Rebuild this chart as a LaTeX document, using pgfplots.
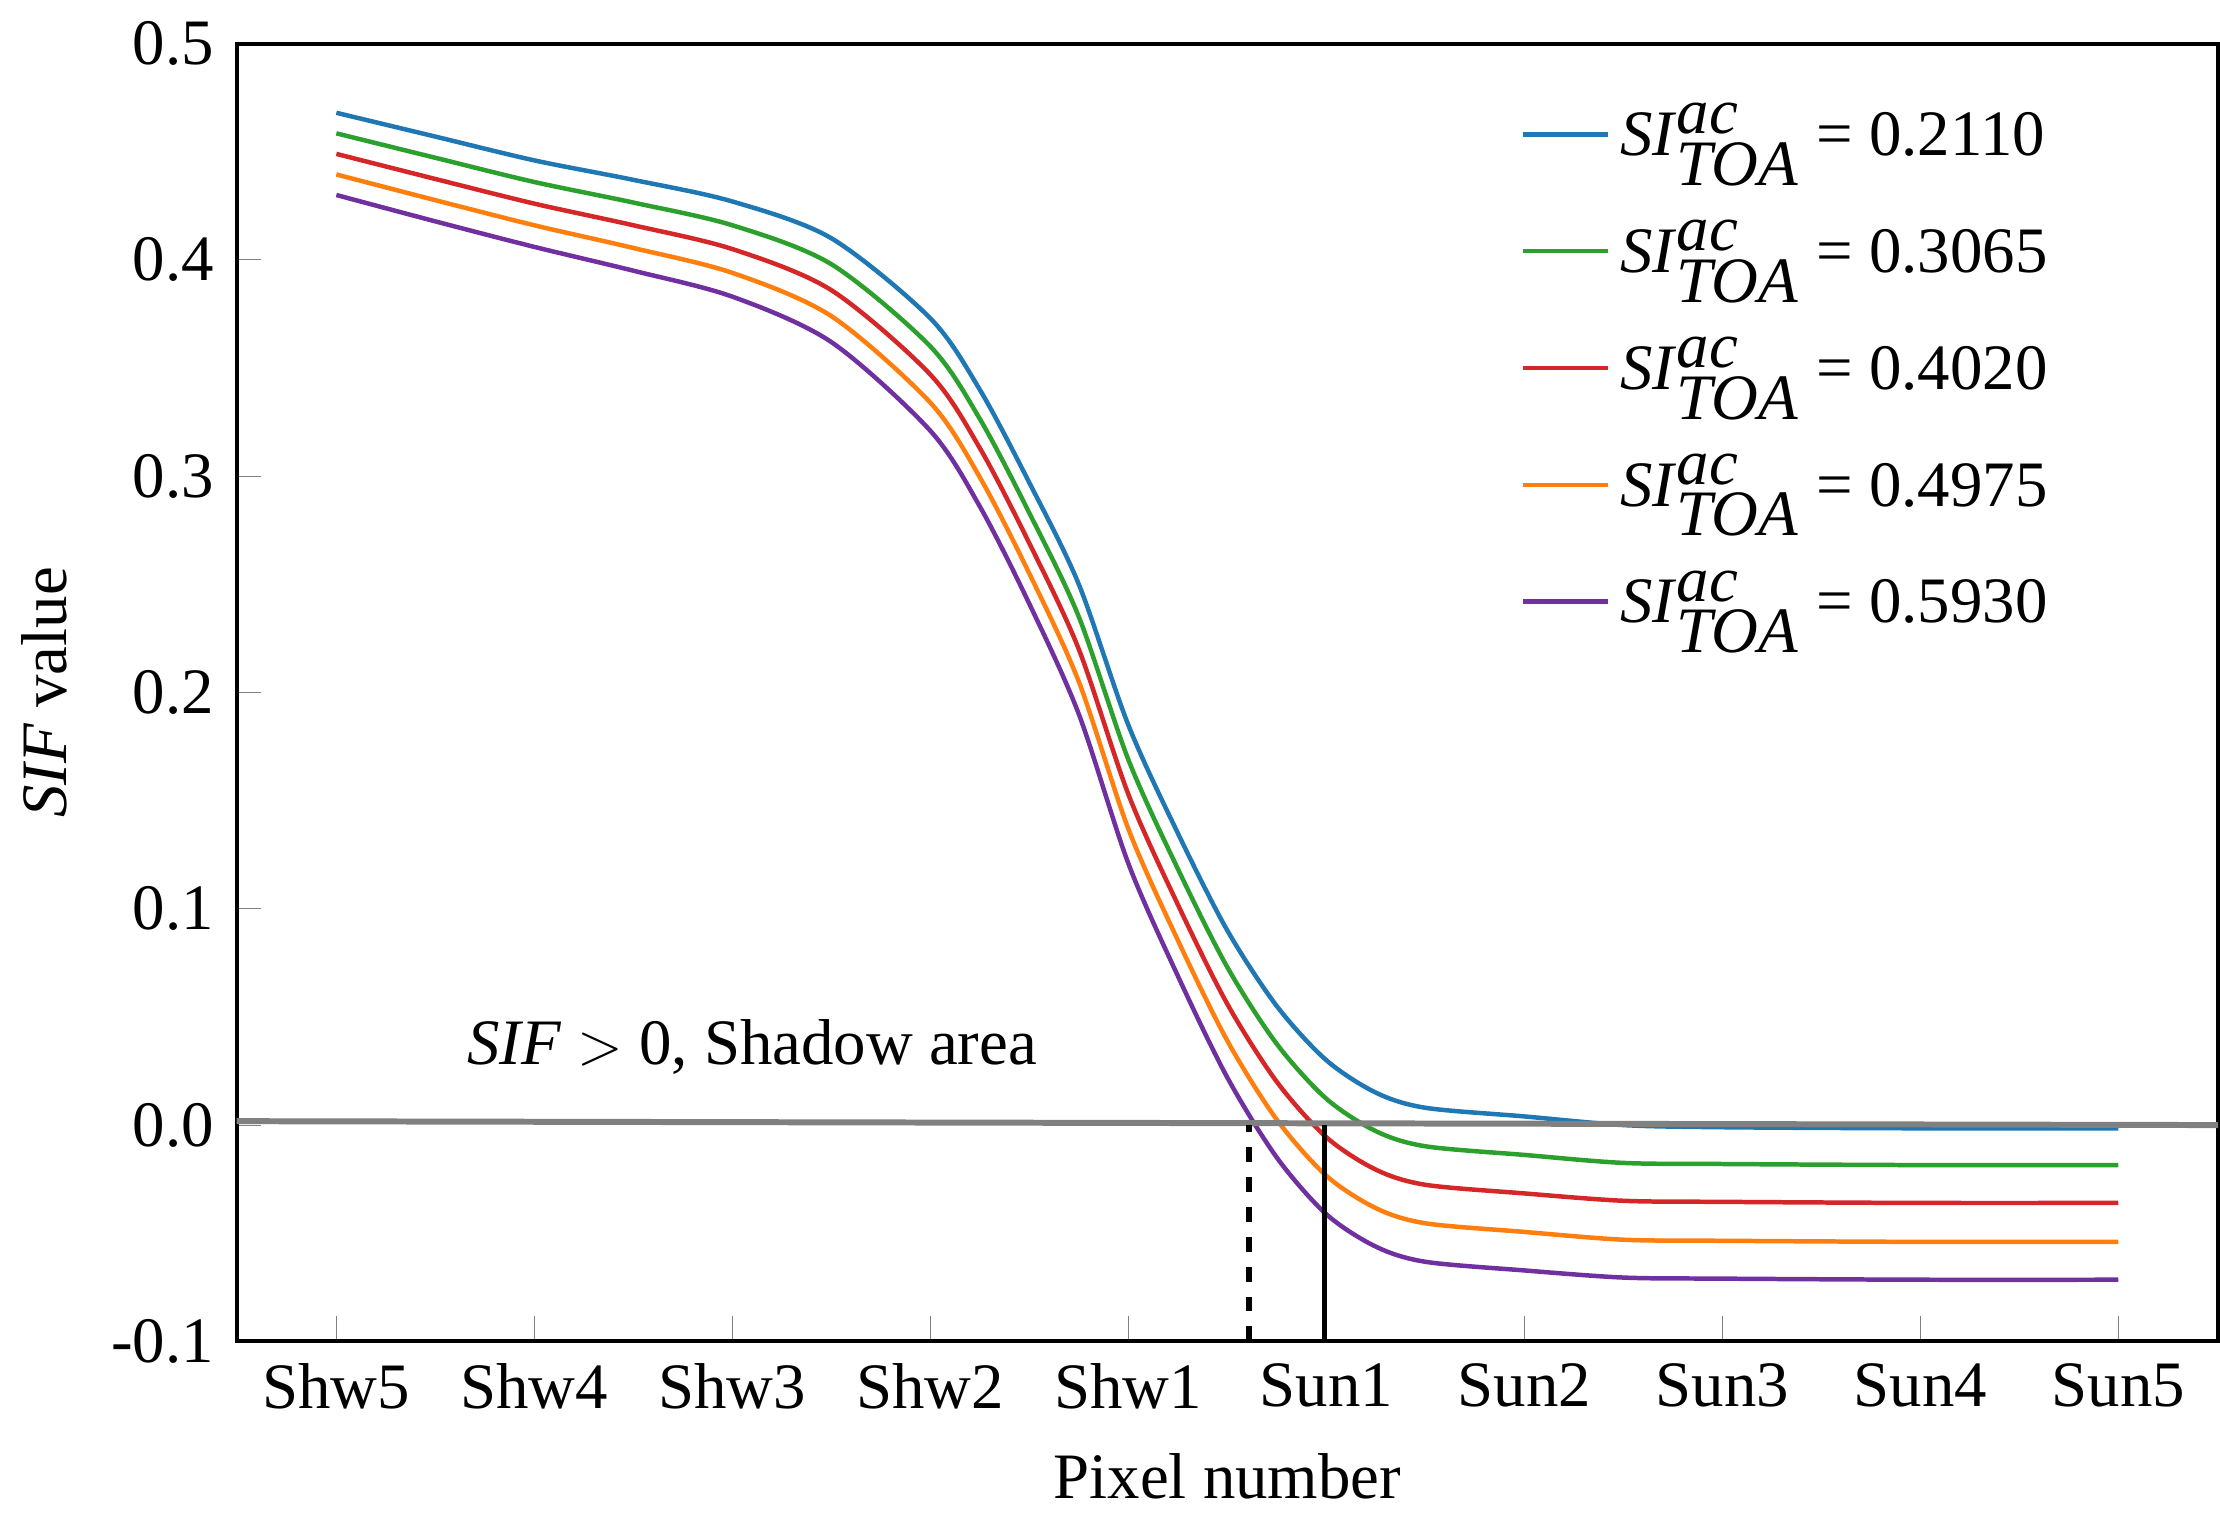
\documentclass[border=0pt]{standalone}
\usepackage{pgfplots}
\pgfplotsset{compat=1.18}
\usepackage{fontspec}
\setmainfont{Liberation Serif}
\definecolor{c1}{HTML}{1F77B4}
\definecolor{c2}{HTML}{2CA02C}
\definecolor{c3}{HTML}{D62728}
\definecolor{c4}{HTML}{FF7F0E}
\definecolor{c5}{HTML}{7030A0}
\newcommand{\SI}{\textit{SI}$^{\textit{ac}}_{\textit{TOA}}$}
\begin{document}
\fontsize{13}{15}\selectfont
\begin{tikzpicture}
\begin{axis}[
 width=13.97cm, height=9.15cm, scale only axis,
 xmin=-0.504, xmax=9.504, ymin=-0.1, ymax=0.5,
 xtick={0,...,9},
 xticklabels={Shw5,Shw4,Shw3,Shw2,Shw1,Sun1,Sun2,Sun3,Sun4,Sun5},
 ytick={-0.1,0,0.1,0.2,0.3,0.4,0.5},
 yticklabels={-0.1,0.0,0.1,0.2,0.3,0.4,0.5},
 tick pos=left, tick align=inside, major tick length=5pt,
 /pgf/number format/assume math mode=true,
 ticklabel style={font=\fontsize{13}{15}\selectfont},
 xlabel={Pixel number}, ylabel={\textit{SIF} value},
 label style={font=\fontsize{13}{15}\selectfont},
 axis line style={line width=0.8pt},
 legend style={draw=none, fill=none, at={(0.64,0.97)}, anchor=north west, row sep=7pt, font=\fontsize{13}{15}\selectfont},
 legend cell align=left,
 every axis plot/.append style={line width=0.9pt},
]
\addplot[c1, smooth] coordinates {(0,.468)(0.5,.457)(1,.446)(1.5,.437)(2,.427)(2.5,.410)(3,.373)(3.25,.340)(3.5,.297)(3.75,.250)(4,.185)(4.25,.135)(4.5,.090)(4.75,.055)(5,.030)(5.25,.015)(5.5,.008)(6,.004)(6.5,.000)(7,-.001)(8,-.0015)(9,-.0015)};
\addlegendentry{\SI{} = 0.2110}
\addplot[c2, smooth] coordinates {(0,.4585)(0.5,.4472)(1,.436)(1.5,.4265)(2,.416)(2.5,.398)(3,.360)(3.25,.3265)(3.5,.283)(3.75,.235)(4,.169)(4.25,.1185)(4.5,.073)(4.75,.0375)(5,.0122)(5.25,-.0028)(5.5,-.0098)(6,-.0138)(6.5,-.0175)(7,-.018)(8,-.0185)(9,-.0185)};
\addlegendentry{\SI{} = 0.3065}
\addplot[c3, smooth] coordinates {(0,.449)(0.5,.4374)(1,.426)(1.5,.416)(2,.405)(2.5,.386)(3,.347)(3.25,.313)(3.5,.269)(3.75,.220)(4,.153)(4.25,.102)(4.5,.056)(4.75,.020)(5,-.0056)(5.25,-.0206)(5.5,-.0276)(6,-.0316)(6.5,-.0350)(7,-.0355)(8,-.036)(9,-.036)};
\addlegendentry{\SI{} = 0.4020}
\addplot[c4, smooth] coordinates {(0,.4395)(0.5,.4276)(1,.416)(1.5,.4055)(2,.394)(2.5,.374)(3,.334)(3.25,.2995)(3.5,.255)(3.75,.205)(4,.137)(4.25,.0855)(4.5,.039)(4.75,.0025)(5,-.0234)(5.25,-.0384)(5.5,-.0454)(6,-.0494)(6.5,-.0530)(7,-.0535)(8,-.054)(9,-.054)};
\addlegendentry{\SI{} = 0.4975}
\addplot[c5, smooth] coordinates {(0,.430)(0.5,.4178)(1,.406)(1.5,.395)(2,.383)(2.5,.362)(3,.321)(3.25,.286)(3.5,.241)(3.75,.190)(4,.121)(4.25,.069)(4.5,.022)(4.75,-.015)(5,-.0412)(5.25,-.0562)(5.5,-.0632)(6,-.0672)(6.5,-.0705)(7,-.071)(8,-.0715)(9,-.0715)};
\addlegendentry{\SI{} = 0.5930}
\addplot[gray, line width=1.2pt, forget plot] coordinates {(-0.504,0.0018)(9.504,0)};
\addplot[black, dashed, line width=1.1pt, forget plot] coordinates {(4.61,-0.1)(4.61,0)};
\addplot[black, line width=1.1pt, forget plot] coordinates {(4.99,-0.1)(4.99,0)};
\node[anchor=base] at (axis cs:2.1,0.028) {\textit{SIF} $>$ 0, Shadow area};
\end{axis}
\end{tikzpicture}
\end{document}
